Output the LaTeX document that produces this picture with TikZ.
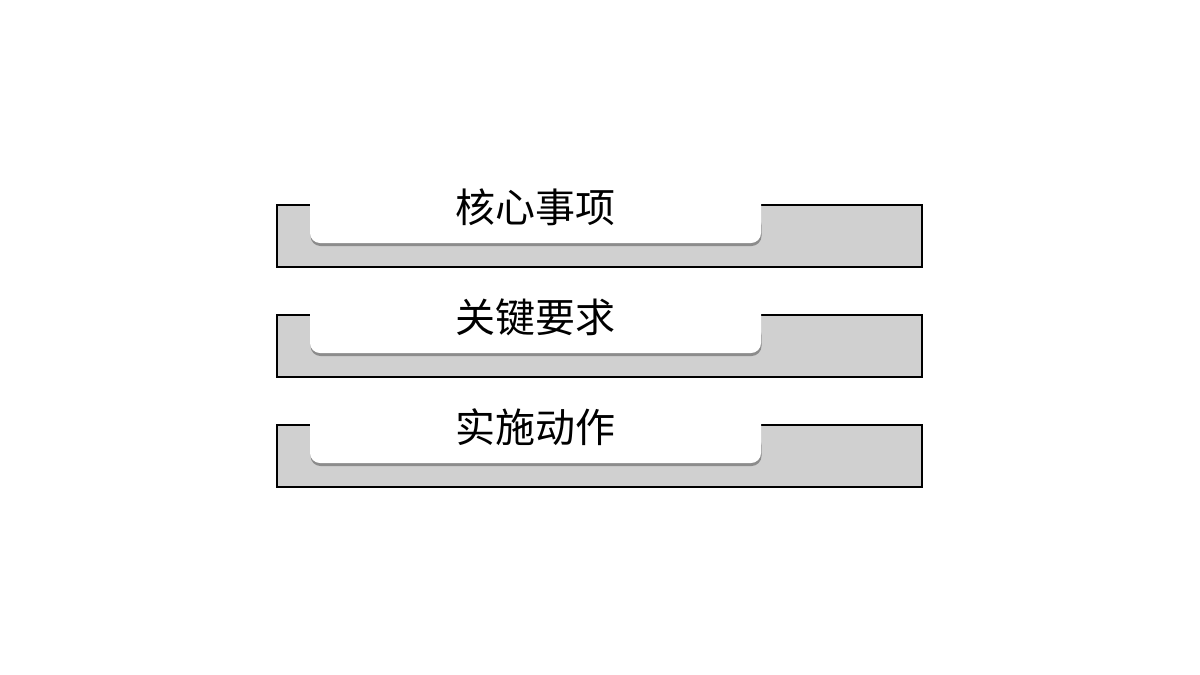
\documentclass[tikz,border=0pt]{standalone}
\usepackage{fontspec}
\newfontfamily\cjk{Noto Sans CJK SC}
\definecolor{bandgray}{HTML}{D0D0D0}
\definecolor{shadowgray}{HTML}{8C8C8C}
\begin{document}
\begin{tikzpicture}[x=1pt,y=-1pt]
\tikzset{
  band/.style={draw=black, line width=1.3pt, fill=bandgray},
  tabshadow/.style={fill=shadowgray, rounded corners=10pt},
  tabface/.style={fill=white, rounded corners=10pt},
  tablabel/.style={font=\cjk\fontsize{40}{48}\selectfont, text=black, inner sep=0pt}
}
\useasboundingbox (0,0) rectangle (1200,675);
\fill[white] (0,0) rectangle (1200,675);
\foreach \i/\txt in {0/核心事项,1/关键要求,2/实施动作}{
  \pgfmathsetmacro{\dy}{110*\i}
  \begin{scope}[yshift=-\dy pt]
    \draw[band] (277,205) rectangle (922,267);
    \fill[tabshadow] (310.5,215) rectangle (761.5,246);
    \fill[tabface] (310,170) rectangle (761,243);
    \node[tablabel] (lab\i) at (535,207) {\txt};
  \end{scope}
}
\end{tikzpicture}
\end{document}
